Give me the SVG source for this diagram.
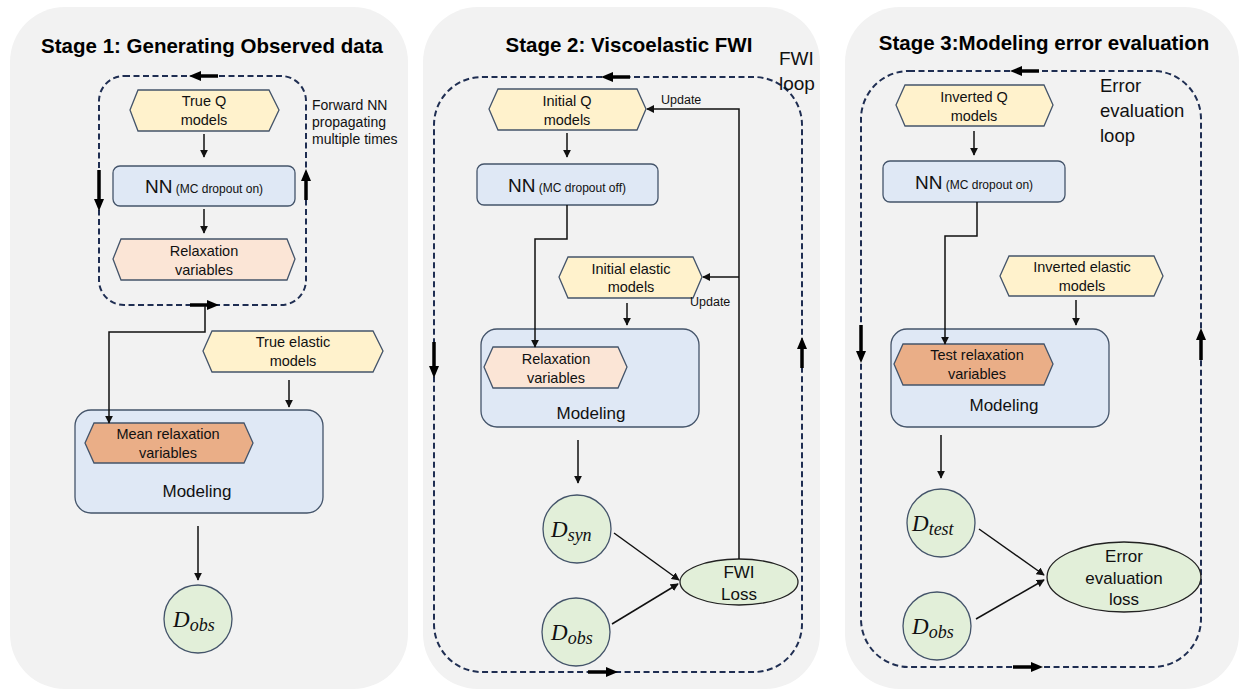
<svg xmlns="http://www.w3.org/2000/svg" width="1239" height="690" viewBox="0 0 1239 690">
<defs>
<style>
.panel{fill:#f2f2f2;stroke:none}
.loop{fill:none;stroke:#1f2e52;stroke-width:2;stroke-dasharray:6 3.5}
.hexy{fill:#fff2cc;stroke:#44546a;stroke-width:1.3}
.hexp{fill:#fbe5d6;stroke:#44546a;stroke-width:1.3}
.hexo{fill:#eaae87;stroke:#44546a;stroke-width:1.3}
.box{fill:#dfe8f5;stroke:#44546a;stroke-width:1.3}
.circ{fill:#e2efd9;stroke:#44546a;stroke-width:1.3}
.ell{fill:#e2efd9;stroke:#222;stroke-width:1.3}
.conna{fill:none;stroke:#111;stroke-width:1.5;marker-end:url(#ah)}
.thick{fill:none;stroke:#000;stroke-width:3.5}
.head{fill:#000}
.t{font-family:"Liberation Sans",Arial,sans-serif;fill:#111}
.title{font-family:"Liberation Sans",Arial,sans-serif;font-weight:bold;font-size:20.5px;fill:#000;text-anchor:middle}
.lbl{font-size:14.5px;text-anchor:middle}
.math{font-family:"Liberation Serif","Times New Roman",serif;font-style:italic;fill:#111}
</style>
<marker id="ah" viewBox="0 0 10 10" refX="9" refY="5" markerWidth="8" markerHeight="8" markerUnits="userSpaceOnUse" orient="auto">
<path d="M0,0 L10,5 L0,10 z" fill="#111"/>
</marker>
</defs>

<!-- panels -->
<g id="panel1"><rect class="panel" x="10" y="7" width="398" height="682" rx="55"/></g>
<g id="panel2"><rect class="panel" x="423" y="7" width="397" height="682" rx="55"/></g>
<g id="panel3"><rect class="panel" x="845" y="7" width="394" height="682" rx="55"/></g>

<!-- titles -->
<text class="title" x="212" y="53">Stage 1: Generating Observed data</text>
<text class="title" x="629" y="52">Stage 2: Viscoelastic FWI</text>
<text class="title" x="1044" y="50">Stage 3:Modeling error evaluation</text>

<!-- loops -->
<g id="loops">
<rect class="loop" x="99" y="76" width="207" height="229" rx="25"/>
<rect class="loop" x="434" y="77" width="368" height="595" rx="48"/>
<rect class="loop" x="861" y="71" width="340" height="596" rx="48"/>
<line class="thick" x1="218" y1="76" x2="200" y2="76"/><polygon class="head" points="189,76 201,71 201,81"/>
<line class="thick" x1="99" y1="170" x2="99" y2="200"/><polygon class="head" points="99,211 94,199 104,199"/>
<line class="thick" x1="306" y1="200" x2="306" y2="180"/><polygon class="head" points="306,169 301,181 311,181"/>
<line class="thick" x1="190" y1="305" x2="208" y2="305"/><polygon class="head" points="219,305 207,300 207,310"/>
<line class="thick" x1="630" y1="77" x2="612" y2="77"/><polygon class="head" points="601,77 613,72 613,82"/>
<line class="thick" x1="434" y1="342" x2="434" y2="367"/><polygon class="head" points="434,378 429,366 439,366"/>
<line class="thick" x1="802" y1="368" x2="802" y2="348"/><polygon class="head" points="802,337 797,349 807,349"/>
<line class="thick" x1="588" y1="672" x2="607" y2="672"/><polygon class="head" points="618,672 606,667 606,677"/>
<line class="thick" x1="1039" y1="71" x2="1021" y2="71"/><polygon class="head" points="1010,71 1022,66 1022,76"/>
<line class="thick" x1="861" y1="325" x2="861" y2="352"/><polygon class="head" points="861,363 856,351 866,351"/>
<line class="thick" x1="1201" y1="360" x2="1201" y2="339"/><polygon class="head" points="1201,328 1196,340 1206,340"/>
<line class="thick" x1="1013" y1="667" x2="1032" y2="667"/><polygon class="head" points="1043,667 1031,662 1031,672"/>
</g>

<!-- side labels -->
<text class="t" font-size="14" x="312" y="110">Forward NN</text>
<text class="t" font-size="14" x="312" y="127">propagating</text>
<text class="t" font-size="14" x="312" y="144">multiple times</text>
<text class="t" font-size="19" x="779" y="65">FWI</text>
<text class="t" font-size="19" x="779" y="90">loop</text>
<text class="t" font-size="18.5" x="1100" y="92">Error</text>
<text class="t" font-size="18.5" x="1100" y="117">evaluation</text>
<text class="t" font-size="18.5" x="1100" y="142">loop</text>

<!-- Stage 1 nodes -->
<g id="trueQ">
<polygon class="hexy" points="130,110 138,90 269,90 279,110 269,131 138,131"/>
<text class="t lbl" x="204" y="106">True Q</text><text class="t lbl" x="204" y="125">models</text>
</g>
<g id="nn1">
<rect class="box" x="113" y="166" width="182" height="40" rx="7"/>
<text class="t" x="204" y="193" text-anchor="middle"><tspan font-size="19">NN</tspan><tspan font-size="12"> (MC dropout on)</tspan></text>
</g>
<g id="relax1">
<polygon class="hexp" points="113,259 121,239 287,239 295,259 287,280 121,280"/>
<text class="t lbl" x="204" y="256">Relaxation</text><text class="t lbl" x="204" y="275">variables</text>
</g>
<g id="trueElastic">
<polygon class="hexy" points="203,351 212,331 373,331 383,351 373,372 212,372"/>
<text class="t lbl" x="293" y="347">True elastic</text><text class="t lbl" x="293" y="366">models</text>
</g>
<g id="modeling1">
<rect class="box" x="75" y="410" width="248" height="103" rx="16"/>
<text class="t" font-size="17" x="197" y="497" text-anchor="middle">Modeling</text>
</g>
<g id="meanRelax">
<polygon class="hexo" points="85,443 94,423 244,423 253,443 244,463 94,463"/>
<text class="t lbl" x="168" y="439">Mean relaxation</text><text class="t lbl" x="168" y="458">variables</text>
</g>
<g id="dobs1">
<circle class="circ" cx="198" cy="619" r="34"/>
<text class="math" x="173" y="627"><tspan font-size="23">D</tspan><tspan font-size="18" dy="4">obs</tspan></text>
</g>

<!-- Stage 2 nodes -->
<g id="initQ">
<polygon class="hexy" points="489,109 498,89 637,89 646,109 637,130 498,130"/>
<text class="t lbl" x="567" y="106">Initial Q</text><text class="t lbl" x="567" y="125">models</text>
</g>
<g id="nn2">
<rect class="box" x="477" y="164" width="181" height="41" rx="7"/>
<text class="t" x="567" y="192" text-anchor="middle"><tspan font-size="19">NN</tspan><tspan font-size="12"> (MC dropout off)</tspan></text>
</g>
<g id="initElastic">
<polygon class="hexy" points="559,277 568,257 693,257 702,277 693,298 568,298"/>
<text class="t lbl" x="631" y="274">Initial elastic</text><text class="t lbl" x="631" y="292">models</text>
</g>
<g id="modeling2">
<rect class="box" x="481" y="329" width="218" height="98" rx="16"/>
<text class="t" font-size="17" x="591" y="419" text-anchor="middle">Modeling</text>
</g>
<g id="relax2">
<polygon class="hexp" points="484,367 493,347 618,347 627,367 618,388 493,388"/>
<text class="t lbl" x="556" y="364">Relaxation</text><text class="t lbl" x="556" y="383">variables</text>
</g>
<g id="dsyn">
<circle class="circ" cx="577" cy="529" r="34"/>
<text class="math" x="551" y="537"><tspan font-size="23">D</tspan><tspan font-size="18" dy="4">syn</tspan></text>
</g>
<g id="dobs2">
<circle class="circ" cx="576" cy="632" r="34"/>
<text class="math" x="551" y="640"><tspan font-size="23">D</tspan><tspan font-size="18" dy="4">obs</tspan></text>
</g>
<g id="fwiLoss">
<ellipse class="ell" cx="739" cy="582" rx="59" ry="23"/>
<text class="t" font-size="17" x="739" y="578" text-anchor="middle">FWI</text>
<text class="t" font-size="17" x="739" y="600" text-anchor="middle">Loss</text>
</g>

<!-- Stage 3 nodes -->
<g id="invQ">
<polygon class="hexy" points="896,105 905,85 1044,85 1053,105 1044,126 905,126"/>
<text class="t lbl" x="974" y="102">Inverted Q</text><text class="t lbl" x="974" y="121">models</text>
</g>
<g id="nn3">
<rect class="box" x="883" y="161" width="182" height="41" rx="7"/>
<text class="t" x="974" y="189" text-anchor="middle"><tspan font-size="19">NN</tspan><tspan font-size="12"> (MC dropout on)</tspan></text>
</g>
<g id="invElastic">
<polygon class="hexy" points="1000,276 1009,256 1154,256 1163,276 1154,296 1009,296"/>
<text class="t lbl" x="1082" y="272">Inverted elastic</text><text class="t lbl" x="1082" y="291">models</text>
</g>
<g id="modeling3">
<rect class="box" x="891" y="329" width="218" height="98" rx="16"/>
<text class="t" font-size="17" x="1004" y="411" text-anchor="middle">Modeling</text>
</g>
<g id="testRelax">
<polygon class="hexo" points="894,364 903,344 1044,344 1053,364 1044,385 903,385"/>
<text class="t lbl" x="977" y="360">Test relaxation</text><text class="t lbl" x="977" y="379">variables</text>
</g>
<g id="dtest">
<circle class="circ" cx="941" cy="523" r="34"/>
<text class="math" x="912" y="531"><tspan font-size="23">D</tspan><tspan font-size="18" dy="4">test</tspan></text>
</g>
<g id="dobs3">
<circle class="circ" cx="937" cy="626" r="34"/>
<text class="math" x="912" y="634"><tspan font-size="23">D</tspan><tspan font-size="18" dy="4">obs</tspan></text>
</g>
<g id="errLoss">
<ellipse class="ell" cx="1124" cy="577" rx="77" ry="35"/>
<text class="t" font-size="17" x="1124" y="562" text-anchor="middle">Error</text>
<text class="t" font-size="17" x="1124" y="584" text-anchor="middle">evaluation</text>
<text class="t" font-size="17" x="1124" y="605" text-anchor="middle">loss</text>
</g>

<!-- connectors -->
<g id="connectors">
<line class="conna" x1="204" y1="134" x2="204" y2="157"/>
<line class="conna" x1="204" y1="209" x2="204" y2="233"/>
<polyline class="conna" points="205,306 205,332 109,332 109,423"/>
<line class="conna" x1="289" y1="380" x2="289" y2="407"/>
<line class="conna" x1="198" y1="526" x2="198" y2="580"/>

<line class="conna" x1="567" y1="133" x2="567" y2="157"/>
<polyline class="conna" points="567,205 567,239 535,239 535,347"/>
<line class="conna" x1="627" y1="303" x2="627" y2="325"/>
<line class="conna" x1="578" y1="440" x2="578" y2="483"/>
<polyline class="conna" points="739,559 739,109 647,109"/>
<line class="conna" x1="739" y1="277" x2="703" y2="277"/>
<line class="conna" x1="614" y1="533" x2="679" y2="580"/>
<line class="conna" x1="612" y1="624" x2="678" y2="584"/>

<line class="conna" x1="974" y1="131" x2="974" y2="155"/>
<polyline class="conna" points="977,202 977,236 945,236 945,344"/>
<line class="conna" x1="1076" y1="300" x2="1076" y2="325"/>
<line class="conna" x1="941" y1="435" x2="941" y2="478"/>
<line class="conna" x1="979" y1="529" x2="1044" y2="575"/>
<line class="conna" x1="976" y1="619" x2="1044" y2="580"/>
</g>
<text class="t" font-size="12.5" x="661" y="104">Update</text>
<text class="t" font-size="12.5" x="690" y="306">Update</text>
</svg>
